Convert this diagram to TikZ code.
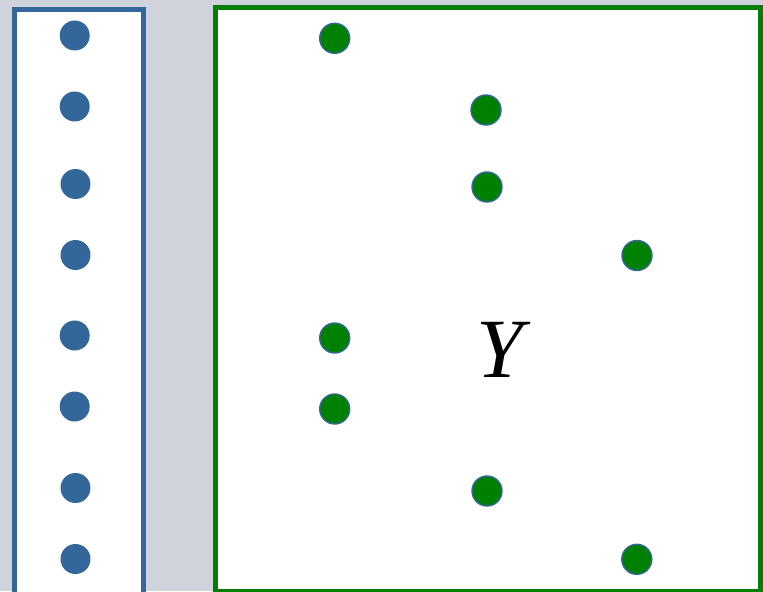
\documentclass[tikz,border=0pt]{standalone}
\usepackage{fontspec}
\setmainfont{Liberation Serif}
\usepackage{tikz}
\usetikzlibrary{positioning}
\definecolor{panelgray}{HTML}{D0D3DB}
\definecolor{setblue}{HTML}{336699}
\definecolor{setgreen}{HTML}{008000}

\begin{document}
\begin{tikzpicture}[
    x=0.02cm, y=-0.02cm,
    panel/.style={fill=white, line width=2.8pt},
    xdot/.style={circle, fill=setblue, draw=none, minimum size=0.6cm, inner sep=0pt},
    ydot/.style={circle, fill=setgreen, draw=setblue, line width=0.8pt, minimum size=0.6cm, inner sep=0pt}
]
    % Background
    \fill[panelgray] (0,0) rectangle (763,591);
    \useasboundingbox (0,0) rectangle (763,591);
    \clip (0,0) rectangle (763,591);

    % Left set
    \draw[panel, draw=setblue] (14.8,9.2) rectangle (143.2,610);
    \node[xdot] (x1) at (74.7,35.5) {};
    \node[xdot] (x2) at (74.7,106.5) {};
    \node[xdot] (x3) at (75.5,184) {};
    \node[xdot] (x4) at (75.5,255) {};
    \node[xdot] (x5) at (74.7,335.5) {};
    \node[xdot] (x6) at (74.7,406.5) {};
    \node[xdot] (x7) at (75.5,488) {};
    \node[xdot] (x8) at (75.5,559) {};

    % Right set
    \draw[panel, draw=setgreen] (215.2,7.5) rectangle (760.5,591.5);
    \node[ydot] (y1) at (334.7,38.3) {};
    \node[ydot] (y2) at (486,110) {};
    \node[ydot] (y3) at (487,187) {};
    \node[ydot] (y4) at (637,255.5) {};
    \node[ydot] (y5) at (334.7,338) {};
    \node[ydot] (y6) at (334.7,409) {};
    \node[ydot] (y7) at (487,491) {};
    \node[ydot] (y8) at (636.8,559.3) {};
    \node[font=\fontsize{48}{58}\selectfont\itshape, inner sep=0pt] (ylabel) at (500,350) {Y};
\end{tikzpicture}
\end{document}
